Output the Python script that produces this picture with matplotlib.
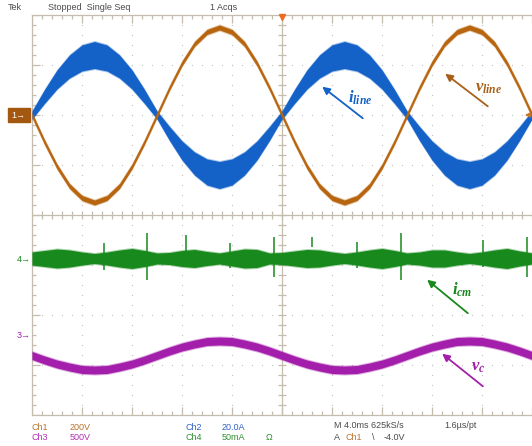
import numpy as np
import matplotlib.pyplot as plt
from matplotlib.collections import LineCollection
from matplotlib.patches import Rectangle

plt.rcParams['mathtext.fontset'] = 'custom'
plt.rcParams['mathtext.it'] = 'Liberation Serif:italic:bold'
plt.rcParams['mathtext.rm'] = 'Liberation Serif:bold'

# time axis, ms (4 ms/div, 10 div), values in divisions
t_ms = list(range(0, 41))

# ch1 v_line, centre of trace
ch1_v = [2.00, 1.46, 0.97, 0.58, 0.34, 0.25, 0.34, 0.58, 0.97, 1.46,
         2.00, 2.54, 3.03, 3.42, 3.66, 3.75, 3.66, 3.42, 3.03, 2.54,
         2.00, 1.46, 0.97, 0.58, 0.34, 0.25, 0.34, 0.58, 0.97, 1.46,
         2.00, 2.54, 3.03, 3.42, 3.66, 3.75, 3.66, 3.42, 3.03, 2.54, 2.00]
ch1_hw = 0.05

# ch2 i_line, centre and half thickness of the noisy band
ch2_i = [2.00, 2.37, 2.71, 2.97, 3.14, 3.20, 3.14, 2.97, 2.71, 2.37,
         2.00, 1.63, 1.29, 1.03, 0.86, 0.80, 0.86, 1.03, 1.29, 1.63,
         2.00, 2.37, 2.71, 2.97, 3.14, 3.20, 3.14, 2.97, 2.71, 2.37,
         2.00, 1.63, 1.29, 1.03, 0.86, 0.80, 0.86, 1.03, 1.29, 1.63, 2.00]
ch2_hw = [0.08, 0.14, 0.19, 0.23, 0.26, 0.27, 0.26, 0.23, 0.19, 0.14,
          0.08, 0.14, 0.19, 0.23, 0.26, 0.27, 0.26, 0.23, 0.19, 0.14,
          0.08, 0.14, 0.19, 0.23, 0.26, 0.27, 0.26, 0.23, 0.19, 0.14,
          0.08, 0.14, 0.19, 0.23, 0.26, 0.27, 0.26, 0.23, 0.19, 0.14, 0.08]

# ch4 i_cm, flat trace with a modulated noise band and switching spikes
ch4_level = -0.87
ch4_hw = [0.13, 0.16, 0.19, 0.17, 0.13, 0.10, 0.13, 0.17, 0.20, 0.16,
          0.11, 0.12, 0.16, 0.18, 0.14, 0.11, 0.15, 0.19, 0.18, 0.11,
          0.12, 0.15, 0.18, 0.17, 0.13, 0.10, 0.13, 0.17, 0.20, 0.16,
          0.11, 0.13, 0.17, 0.17, 0.13, 0.10, 0.13, 0.17, 0.20, 0.15, 0.11]
spike_t = [5.76, 9.2, 12.32, 15.84, 19.36, 22.4, 26.0, 29.52, 36.08, 39.6]
spike_top = [-0.56, -0.36, -0.40, -0.56, -0.44, -0.44, -0.54, -0.36, -0.50, -0.44]
spike_bot = [-1.10, -1.30, -0.76, -1.06, -1.24, -0.64, -1.06, -1.30, -1.04, -1.24]

# ch3 v_c
ch3_v = [-2.81, -2.90, -2.98, -3.04, -3.09, -3.10, -3.09, -3.04, -2.98, -2.90,
         -2.81, -2.72, -2.64, -2.58, -2.53, -2.52, -2.53, -2.58, -2.64, -2.72,
         -2.81, -2.90, -2.98, -3.04, -3.09, -3.10, -3.09, -3.04, -2.98, -2.90,
         -2.81, -2.72, -2.64, -2.58, -2.53, -2.52, -2.53, -2.58, -2.64, -2.72, -2.81]
ch3_hw = 0.08

ORANGE = '#b8650f'
BLUE = '#1462c8'
GREEN = '#18891c'
PURPLE = '#a31fab'
GRID = '#c4bcae'

W, H = 532, 446


def px(x, y):
    # screen pixel -> (ms, div)
    return (x - 32) / 50 * 4, (215 - y) / 50


def band(ax, t, c, hw, color, z):
    c = np.asarray(c, float)
    hw = np.broadcast_to(np.asarray(hw, float), c.shape)
    ax.fill_between(t, c - hw - 0.02, c + hw + 0.02, color=color, alpha=0.35, lw=0, zorder=z)
    ax.fill_between(t, c - hw, c + hw, color=color, lw=0, zorder=z)


fig = plt.figure(figsize=(W / 100, H / 100), dpi=100)
ax = fig.add_axes([32 / W, 31 / H, 500 / W, 400 / H])
ax.set_xlim(0, 40)
ax.set_ylim(-4, 4)
ax.set_xticks([])
ax.set_yticks([])
for s in ['top', 'bottom', 'left']:
    ax.spines[s].set_color(GRID)
    ax.spines[s].set_linewidth(0.9)
ax.spines['right'].set_visible(False)

# dotted graticule
dx = np.arange(0, 40.01, 0.8)
dy = np.arange(-4, 4.01, 0.2)
gx, gy = [], []
for i in [1, 2, 3, 4, 6, 7, 8, 9]:
    gx += [i * 4] * len(dy)
    gy += list(dy)
for j in [-3, -2, -1, 1, 2, 3]:
    gx += list(dx)
    gy += [j] * len(dx)
ax.scatter(gx, gy, s=0.9, color='#c4c4c4', lw=0, zorder=1)

ax.axvline(20, color=GRID, lw=0.9, zorder=1)
ax.axhline(0, color=GRID, lw=0.9, zorder=1)

segs = []
for k, x in enumerate(dx):
    L = 0.16 if k % 5 == 0 else 0.08
    segs.append([(x, 4), (x, 4 - L)])
    segs.append([(x, -4), (x, -4 + L)])
    segs.append([(x, -0.08), (x, 0.08)])
for k, y in enumerate(dy):
    L = 0.64 if k % 5 == 0 else 0.32
    segs.append([(0, y), (L, y)])
    segs.append([(19.68, y), (20.32, y)])
ax.add_collection(LineCollection(segs, colors=GRID, linewidths=0.9, zorder=1))

# traces
band(ax, t_ms, ch2_i, ch2_hw, BLUE, 3)
band(ax, t_ms, ch1_v, ch1_hw, ORANGE, 4)
band(ax, t_ms, [ch4_level] * len(t_ms), ch4_hw, GREEN, 3)
ax.vlines(spike_t, spike_bot, spike_top, color=GREEN, lw=1.1, zorder=3)
band(ax, t_ms, ch3_v, ch3_hw, PURPLE, 3)

# annotations
ann = [
    (r'$i_{line}$', (360, 98), (365, 120), (320, 85), BLUE),
    (r'$v_{line}$', (489, 87), (490, 108), (443, 72), '#a86018'),
    (r'$i_{cm}$', (462, 290), (470, 315), (425, 278), GREEN),
    (r'$v_c$', (478, 366), (485, 388), (440, 352), PURPLE),
]
for lab, tp, tail, head, col in ann:
    ax.text(*px(*tp), lab, color=col, fontsize=12, ha='center', va='center', zorder=6)
    ax.annotate('', xy=px(*head), xytext=px(*tail),
                arrowprops=dict(arrowstyle='-|>', color=col, lw=1.3, mutation_scale=11),
                zorder=6)

# trigger markers
ax.plot([20], [3.97], marker='v', color='#ee6a20', ms=5, clip_on=False, zorder=7)
ax.annotate('', xy=px(522, 115), xytext=px(533, 115),
            arrowprops=dict(arrowstyle='-|>', color='#c8752a', lw=1.0, mutation_scale=7),
            annotation_clip=False, zorder=7)


def ftext(x, y, s, color='#4a4a4a', **kw):
    fig.text(x / W, 1 - y / H, s, color=color, fontsize=6.5, va='center',
             family=['Liberation Sans', 'DejaVu Sans'], zorder=8, **kw)


fig.patches.append(Rectangle((8 / W, 1 - 122 / H), 22 / W, 14 / H,
                             transform=fig.transFigure, color='#a4580f', zorder=2))
ftext(11, 115, '1→', color='white')
ftext(31, 260, '4→', color=GREEN, ha='right')
ftext(31, 335, '3→', color=PURPLE, ha='right')

ftext(8, 7, 'Tek')
ftext(48, 7, 'Stopped  Single Seq')
ftext(210, 7, '1 Acqs')

ftext(32, 427, 'Ch1', color='#b8742c')
ftext(70, 427, '200V', color='#b8742c')
ftext(32, 438, 'Ch3', color='#b030b0')
ftext(70, 438, '500V', color='#b030b0')
ftext(185, 427, 'Ch2', color='#3060c8')
ftext(222, 427, '20.0A', color='#3060c8')
ftext(185, 438, 'Ch4', color='#2f8f2f')
ftext(222, 438, '50mA', color='#2f8f2f')
ftext(266, 438, 'Ω', color='#2f8f2f')
ftext(334, 426, 'M 4.0ms 625kS/s')
ftext(444, 426, '1.6µs/pt')
ftext(334, 438, 'A')
ftext(345, 438, 'Ch1', color='#b8742c')
ftext(372, 438, '\\')
ftext(384, 438, '-4.0V')

fig.savefig('out.png', dpi=100)
